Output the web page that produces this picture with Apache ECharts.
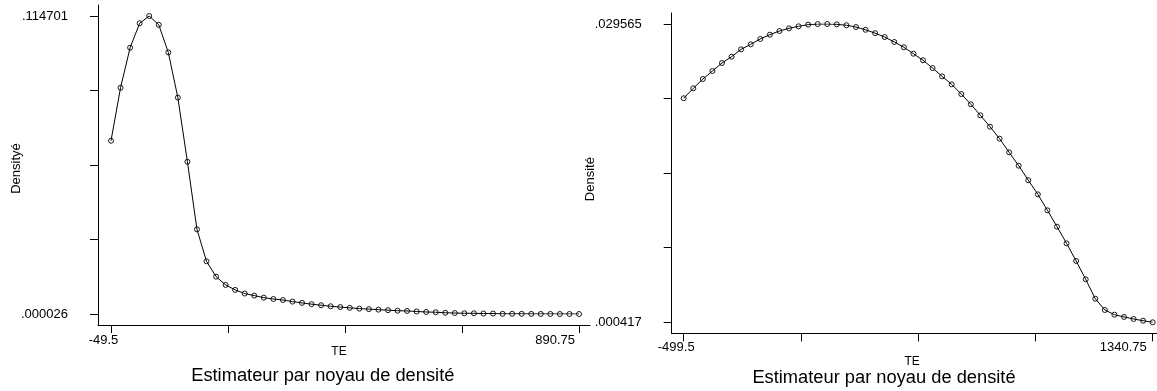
<!DOCTYPE html>
<html>
<head>
<meta charset="utf-8">
<title>Estimateur par noyau de densité</title>
<script src="https://cdn.jsdelivr.net/npm/echarts@6/dist/echarts.min.js"></script>
<style>
html,body{margin:0;padding:0;background:#fff;}
#charts{width:1157px;height:391px;}
</style>
</head>
<body>
<div id="charts"></div>
<script>
// points d'evaluation (kdensity, n=50) - panneau gauche
var xLeft = [-49.5,-30.31,-11.12,8.07,27.26,46.44,65.63,84.82,104.01,123.20,
	142.39,161.58,180.77,199.95,219.14,238.33,257.52,276.71,295.90,315.09,
	334.28,353.46,372.65,391.84,411.03,430.22,449.41,468.60,487.79,506.97,
	526.16,545.35,564.54,583.73,602.92,622.11,641.30,660.48,679.67,698.86,
	718.05,737.24,756.43,775.62,794.81,813.99,833.18,852.37,871.56,890.75];
var yLeft = [0.0667,0.0871,0.1025,0.1119,0.114701,0.1113,0.1007,0.0833,0.0586,0.0326,
	0.0203,0.0144,0.0112,0.0093,0.0079,0.0071,0.0063,0.0058,0.0054,0.0048,
	0.0043,0.0038,0.0034,0.0030,0.0027,0.0024,0.0021,0.0019,0.0017,0.0015,
	0.0013,0.0012,0.0010,0.0008,0.0007,0.0005,0.0004,0.0003,0.0003,0.0002,
	0.0002,0.0001,0.0001,0.0001,0.00006,0.00005,0.00004,0.00003,0.00003,0.000026];
// panneau droit
var xRight = [-499.5,-461.94,-424.39,-386.83,-349.28,-311.72,-274.16,-236.61,-199.05,-161.49,
	-123.94,-86.38,-48.83,-11.27,26.29,63.84,101.40,138.95,176.51,214.07,
	251.62,289.18,326.73,364.29,401.85,439.40,476.96,514.52,552.07,589.63,
	627.18,664.74,702.30,739.85,777.41,814.96,852.52,890.08,927.63,965.19,
	1002.74,1040.30,1077.86,1115.41,1152.97,1190.53,1228.08,1265.64,1303.19,1340.75];
var yRight = [0.02231,0.02328,0.02419,0.02497,0.02575,0.02637,0.02709,0.02758,0.02810,0.02852,
	0.02888,0.02914,0.02934,0.02950,0.02956,0.029565,0.02953,0.02944,0.02927,0.02900,
	0.02867,0.02829,0.02781,0.02729,0.02666,0.02602,0.02526,0.02445,0.02367,0.02272,
	0.02172,0.02064,0.01953,0.01836,0.01703,0.01572,0.01430,0.01292,0.01136,0.00976,
	0.00813,0.00641,0.00462,0.00272,0.00162,0.00116,0.00094,0.00074,0.00057,0.000417];

// graduations (min, max) et libelles
var xTicksLeft = [-49.5, 890.75];
var xLabelsLeft = ['-49.5', '890.75'];
var yTicksLeft = [0.000026, 0.114701];
var yLabelsLeft = ['.000026', '.114701'];
var xTicksRight = [-499.5, 1340.75];
var xLabelsRight = ['-499.5', '1340.75'];
var yTicksRight = [0.000417, 0.029565];
var yLabelsRight = ['.000417', '.029565'];

var yNameLeft = 'Densityé';
var yNameRight = 'Densité';
var xName = 'TE';
var caption = 'Estimateur par noyau de densité';

var FONT = "'Liberation Sans', Arial, Helvetica, sans-serif";

function pairs(xs, ys){
	var d = [];
	for(var i=0;i<xs.length;i++){
		d.push([xs[i], ys[i]]);
	}
	return d;
}

//formatter: seulement le premier et le dernier libelle
function xFormatter(ticks, labels){
	return function(v){
		var eps = (ticks[1]-ticks[0])*1e-6;
		if(Math.abs(v-ticks[0])<eps) return '{lo|'+labels[0]+'}';
		if(Math.abs(v-ticks[1])<eps) return '{hi|'+labels[1]+'}';
		return '';
	};
}
function yFormatter(ticks, labels){
	return function(v){
		var eps = (ticks[1]-ticks[0])*1e-6;
		if(Math.abs(v-ticks[0])<eps) return labels[0];
		if(Math.abs(v-ticks[1])<eps) return labels[1];
		return '';
	};
}

//axe "cadre" : seulement la ligne
function frameAxis(gridIndex){
	return {
		type:'value', gridIndex:gridIndex, min:0, max:1,
		axisLine:{show:true, onZero:false, lineStyle:{color:'#000', width:1}},
		axisTick:{show:false}, axisLabel:{show:false}, splitLine:{show:false}
	};
}

function tickX(gridIndex, ticks, labels, offset, margin, nameGap, hiPad){
	return {
		type:'value', gridIndex:gridIndex,
		min:ticks[0], max:ticks[1], interval:(ticks[1]-ticks[0])/4,
		offset:offset,
		name:xName, nameLocation:'middle', nameGap:nameGap, nameMoveOverlap:false,
		nameTextStyle:{color:'#000', fontFamily:FONT, fontSize:12, padding:[0,12,0,0]},
		axisLine:{show:false, onZero:false},
		axisTick:{show:true, length:8, lineStyle:{color:'#000', width:1}},
		axisLabel:{
			margin:margin, color:'#000', fontFamily:FONT, fontSize:13,
			alignMaxLabel:'right',
			formatter:xFormatter(ticks, labels),
			rich:{
				lo:{fontFamily:FONT, fontSize:13, color:'#000', padding:[0,15,0,0]},
				hi:{fontFamily:FONT, fontSize:13, color:'#000', padding:[0,hiPad,0,0]}
			}
		},
		splitLine:{show:false}
	};
}

function tickY(gridIndex, ticks, labels, offset, name, namePad){
	return {
		type:'value', gridIndex:gridIndex,
		min:ticks[0], max:ticks[1], interval:(ticks[1]-ticks[0])/4,
		offset:offset,
		name:name, nameLocation:'middle', nameGap:75, nameMoveOverlap:false,
		nameTextStyle:{color:'#000', fontFamily:FONT, fontSize:13, padding:[0,namePad,0,0]},
		axisLine:{show:false, onZero:false},
		axisTick:{show:true, length:8, lineStyle:{color:'#000', width:1}},
		axisLabel:{
			margin:30, color:'#000', fontFamily:FONT, fontSize:13, padding:[4,0,0,0],
			formatter:yFormatter(ticks, labels)
		},
		splitLine:{show:false}
	};
}

function densitySeries(axisIndex, xs, ys){
	return {
		type:'line', xAxisIndex:axisIndex, yAxisIndex:axisIndex,
		data:pairs(xs, ys),
		symbol:'circle', symbolSize:5, showAllSymbol:true,
		itemStyle:{color:'rgba(0,0,0,0)', borderColor:'#000', borderWidth:0.9},
		lineStyle:{color:'#000', width:1},
		emphasis:{disabled:true},
		z:3
	};
}

function chart(){
	var charts = echarts.init(document.getElementById('charts'), null, {renderer:'canvas'});
	var option = {
		animation:false,
		backgroundColor:'#fff',
		grid:[
			{left:98, top:5, width:492, height:320},       // cadre gauche
			{left:111, top:16, width:468, height:298},     // donnees gauche
			{left:671.7, top:13, width:486, height:320.3}, // cadre droit
			{left:683.7, top:24, width:469, height:298.3}  // donnees droit
		],
		xAxis:[
			frameAxis(0),
			tickX(1, xTicksLeft, xLabelsLeft, 11, 9, 21, 4),
			frameAxis(2),
			tickX(3, xTicksRight, xLabelsRight, 11, 8, 22, 6)
		],
		yAxis:[
			frameAxis(0),
			tickY(1, yTicksLeft, yLabelsLeft, 13, yNameLeft, 7),
			frameAxis(2),
			tickY(3, yTicksRight, yLabelsRight, 12, yNameRight, 12)
		],
		series:[
			densitySeries(1, xLeft, yLeft),
			densitySeries(3, xRight, yRight)
		],
		graphic:[
			{type:'text', x:322.8, y:376, style:{text:caption, font:'18.3px '+FONT, fill:'#000', textAlign:'center', textVerticalAlign:'middle'}},
			{type:'text', x:884, y:378.2, style:{text:caption, font:'18.3px '+FONT, fill:'#000', textAlign:'center', textVerticalAlign:'middle'}}
		]
	};
	charts.setOption(option);
}

chart();
</script>
</body>
</html>
